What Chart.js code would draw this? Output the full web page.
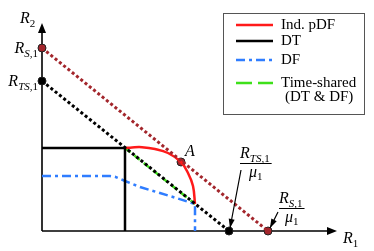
<!DOCTYPE html>
<html>
<head>
<meta charset="UTF-8">
<title>Rate region</title>
<style>
body { margin: 0; background: #fff; }
</style>
</head>
<body>
<canvas id="chart" width="374" height="251"></canvas>

<script src="https://cdn.jsdelivr.net/npm/chart.js@4"></script>

<script>
// values (arbitrary rate units)
const sumLineX = [0, 22.6];          // R_S,1 line
const sumLineY = [18.3, 0];
const tsLineX = [0, 18.7];           // R_TS,1 line
const tsLineY = [15.0, 0];
const dtX = [0, 8.3, 8.3];
const dtY = [8.3, 8.3, 0];
const pdfX = [8.3, 9.0, 10.0, 11.3, 12.6, 13.9, 14.6, 15.1, 15.3];
const pdfY = [8.3, 8.36, 8.38, 8.2, 7.8, 6.9, 5.8, 4.5, 2.7];
const dfX = [0, 6.8, 7.3, 7.8, 8.3, 9.8, 13.1, 15.3, 15.3];
const dfY = [5.5, 5.5, 5.42, 5.22, 5.0, 4.4, 3.4, 2.7, 0];
const tsharedX = [8.3, 15.3];
const tsharedY = [8.3, 2.7];
const markX = [0, 0, 13.9, 18.7, 22.6];
const markY = [18.3, 15.0, 6.9, 0, 0];
const axisMaxX = 29.5, axisMaxY = 20.8;

const darkRed = '#a3262c';
const markColors = [darkRed, '#000', darkRed, '#000', darkRed];

const pts = (xs, ys) => xs.map((x, i) => ({x: x, y: ys[i]}));

const serif = '"Liberation Serif", "Times New Roman", serif';
const it = s => 'italic ' + s + 'px ' + serif;
const up = s => s + 'px ' + serif;

function partsWidth(ctx, parts) {
  let w = 0;
  for (const p of parts) { ctx.font = p[1]; w += ctx.measureText(p[0]).width; }
  return w;
}
function drawParts(ctx, x, y, parts) {
  let cx = x;
  for (const p of parts) {
    ctx.font = p[1];
    ctx.fillText(p[0], cx, y + p[2]);
    cx += ctx.measureText(p[0]).width;
  }
}
const rS1 = [['R', it(16), 0], ['S', it(11), 4], [',1', up(11), 4]];
const rTS1 = [['R', it(16), 0], ['TS', it(11), 4], [',1', up(11), 4]];
const mu1 = [['\u03bc', it(16), 0], ['1', up(11), 3]];

function arrowHead(ctx, x0, y0, x1, y1, len, wid) {
  const a = Math.atan2(y1 - y0, x1 - x0);
  ctx.beginPath();
  ctx.moveTo(x1, y1);
  ctx.lineTo(x1 - len * Math.cos(a) + wid * Math.sin(a), y1 - len * Math.sin(a) - wid * Math.cos(a));
  ctx.lineTo(x1 - len * Math.cos(a) - wid * Math.sin(a), y1 - len * Math.sin(a) + wid * Math.cos(a));
  ctx.closePath();
  ctx.fill();
}

function fraction(ctx, x, y, num) {
  const w = partsWidth(ctx, num) + 2;
  drawParts(ctx, x, y, num);
  ctx.fillRect(x, y + 5, w, 1);
  const dw = partsWidth(ctx, mu1);
  drawParts(ctx, x + (w - dw) / 2, y + 19, mu1);
}

const decor = {
  id: 'decor',
  beforeDatasetsDraw(chart) {
    const ctx = chart.ctx, xs = chart.scales.x, ys = chart.scales.y;
    const ox = xs.getPixelForValue(0), oy = ys.getPixelForValue(0);
    const ex = xs.getPixelForValue(axisMaxX), ey = ys.getPixelForValue(axisMaxY);
    ctx.save();
    ctx.strokeStyle = '#000';
    ctx.fillStyle = '#000';
    ctx.lineWidth = 1.6;
    ctx.beginPath();
    ctx.moveTo(ox, oy); ctx.lineTo(ex - 6, oy);
    ctx.moveTo(ox, oy); ctx.lineTo(ox, ey + 6);
    ctx.stroke();
    arrowHead(ctx, ox, oy, ex, oy, 10, 4);
    arrowHead(ctx, ox, oy, ox, ey, 10, 4);
    ctx.restore();
  },
  afterDraw(chart) {
    const ctx = chart.ctx, xs = chart.scales.x, ys = chart.scales.y;
    const ds = chart.data.datasets;
    ctx.save();
    ctx.fillStyle = '#000';
    ctx.textBaseline = 'alphabetic';

    // axis names and intercept labels
    drawParts(ctx, 20, 23, [['R', it(16), 0], ['2', up(11), 4]]);
    drawParts(ctx, 343, 243, [['R', it(16), 0], ['1', up(11), 4]]);
    drawParts(ctx, 38 - partsWidth(ctx, rS1), 53, rS1);
    drawParts(ctx, 38 - partsWidth(ctx, rTS1), 86, rTS1);
    drawParts(ctx, 185, 156, [['A', it(16), 0]]);

    // fraction labels with pointers
    fraction(ctx, 240, 158, rTS1);
    fraction(ctx, 279, 203, rS1);
    ctx.strokeStyle = '#000';
    ctx.lineWidth = 1.2;
    const tx = xs.getPixelForValue(tsLineX[1]), sx = xs.getPixelForValue(sumLineX[1]);
    const by = ys.getPixelForValue(0);
    ctx.beginPath();
    ctx.moveTo(241, 170); ctx.lineTo(tx + 1, by - 3);
    ctx.moveTo(278, 212); ctx.lineTo(sx + 2, by - 3);
    ctx.stroke();
    arrowHead(ctx, 241, 170, tx + 1, by - 3, 9, 3);
    arrowHead(ctx, 278, 212, sx + 2, by - 3, 9, 3);

    // legend box
    ctx.strokeStyle = '#555';
    ctx.lineWidth = 1;
    ctx.strokeRect(223.5, 13.5, 141, 101);
    const rows = [[3, 25, 'Ind. pDF', null], [2, 41, 'DT', null], [4, 60, 'DF', [9, 4, 3, 4]],
                  [5, 83, 'Time-shared', [16, 6]]];
    for (const r of rows) {
      const d = ds[r[0]];
      ctx.strokeStyle = d.borderColor;
      ctx.lineWidth = 2.5;
      ctx.setLineDash(r[3] || d.borderDash || []);
      ctx.beginPath();
      ctx.moveTo(236, r[1]); ctx.lineTo(273, r[1]);
      ctx.stroke();
      ctx.setLineDash([]);
      ctx.font = up(15);
      ctx.fillText(r[2], 281, r[1] + 4);
    }
    ctx.font = up(15);
    ctx.fillText('(DT & DF)', 285, 101);
    ctx.restore();
  }
};

new Chart(document.getElementById('chart'), {
  type: 'scatter',
  data: {
    datasets: [
      { label: 'R_S,1 line', data: pts(sumLineX, sumLineY), showLine: true, borderColor: darkRed,
        borderWidth: 3, borderDash: [3, 2.5], pointRadius: 0 },
      { label: 'R_TS,1 line', data: pts(tsLineX, tsLineY), showLine: true, borderColor: '#000',
        borderWidth: 3, borderDash: [3, 2.5], pointRadius: 0 },
      { label: 'DT', data: pts(dtX, dtY), showLine: true, borderColor: '#000',
        borderWidth: 2.5, pointRadius: 0 },
      { label: 'Ind. pDF', data: pts(pdfX, pdfY), showLine: true, borderColor: '#ff1a1a',
        borderWidth: 2.5, pointRadius: 0, tension: 0.4 },
      { label: 'DF', data: pts(dfX, dfY), showLine: true, borderColor: '#2f7dff',
        borderWidth: 2.5, borderDash: [9, 4, 3, 4], pointRadius: 0 },
      { label: 'Time-shared (DT & DF)', data: pts(tsharedX, tsharedY), showLine: true, borderColor: '#3ee01a',
        borderWidth: 2.5, borderDash: [7, 5], pointRadius: 0 },
      { label: 'points', data: pts(markX, markY), showLine: false, pointRadius: 4,
        pointBackgroundColor: markColors, pointBorderColor: '#222', pointBorderWidth: 1 }
    ]
  },
  options: {
    responsive: false,
    animation: false,
    clip: false,
    layout: { padding: { left: 42, right: 32, top: 21, bottom: 20 } },
    plugins: { legend: { display: false }, tooltip: { enabled: false } },
    scales: {
      x: { type: 'linear', min: 0, max: 30, display: false },
      y: { type: 'linear', min: 0, max: 21, display: false }
    }
  },
  plugins: [decor]
});
</script>
</body>
</html>
